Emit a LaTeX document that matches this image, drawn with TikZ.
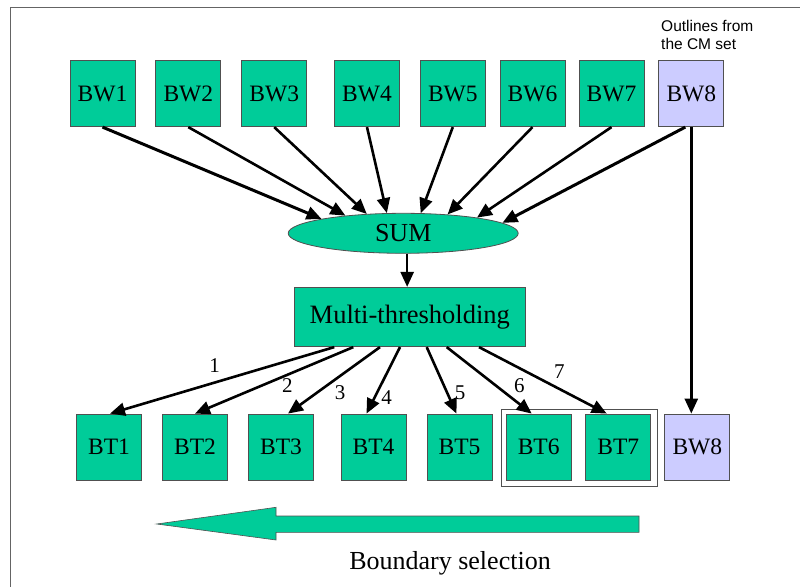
\documentclass[tikz,border=0pt]{standalone}
\usepackage{fontspec}
\setmainfont{Liberation Serif}
\newfontfamily\notefont{Liberation Sans}
\usetikzlibrary{shapes.geometric,arrows.meta,calc}
\definecolor{sea}{RGB}{0,204,153}
\definecolor{lav}{RGB}{204,204,255}
\definecolor{boxline}{RGB}{80,80,80}
\definecolor{framecol}{RGB}{100,100,100}
\begin{document}
\begin{tikzpicture}[x=1pt,y=-1pt,
  gbox/.style={draw=boxline, line width=0.8pt, fill=sea, minimum width=65pt,
    minimum height=66pt, inner sep=0pt, font=\fontsize{23.5}{26}\selectfont},
  lbox/.style={gbox, fill=lav},
  arr/.style={line width=2.6pt, -{Triangle[length=15pt,width=13pt]}},
  num/.style={inner sep=0pt, font=\fontsize{21}{24}\selectfont}]
\useasboundingbox (0,0) rectangle (800,586);
% page frame
\draw[framecol, line width=1pt] (10.5,590) -- (10.5,7.3) -- (803,7.3);

% input outlines
\node[gbox] (bw1) at (102.5,93.7) {BW1};
\node[gbox] (bw2) at (188.3,93.7) {BW2};
\node[gbox] (bw3) at (274.2,93.7) {BW3};
\node[gbox] (bw4) at (367,93.7) {BW4};
\node[gbox] (bw5) at (452.8,93.7) {BW5};
\node[gbox] (bw6) at (532.5,93.7) {BW6};
\node[gbox] (bw7) at (611.5,93.7) {BW7};
\node[lbox] (bw8) at (691.3,93.7) {BW8};
\node[anchor=north west, inner sep=0pt, align=left,
  font=\notefont\fontsize{15.5}{17.6}\selectfont] (note) at (661,20.3)
  {Outlines from\\the CM set};

% sum and thresholding
\node[ellipse, draw=boxline, line width=0.8pt, fill=sea, minimum width=230pt,
  minimum height=40pt, inner sep=0pt, font=\fontsize{26}{30}\selectfont]
  (sum) at (403.2,233.3) {SUM};
\node[gbox, minimum width=231.7pt, minimum height=59.4pt,
  font=\fontsize{26.5}{30}\selectfont] (multi) at (409.8,317) {Multi-thresholding};

% thresholded outputs
\node[gbox] (bt1) at (109,447) {BT1};
\node[gbox] (bt2) at (195,447) {BT2};
\node[gbox] (bt3) at (281,447) {BT3};
\node[gbox] (bt4) at (373.5,447) {BT4};
\node[gbox] (bt5) at (459.5,447) {BT5};
\node[gbox] (bt6) at (538.7,447) {BT6};
\node[gbox] (bt7) at (618.3,447) {BT7};
\node[lbox] (bw8b) at (697.3,447) {BW8};
\node[draw=boxline, line width=0.8pt, fill=none, minimum width=156pt,
  minimum height=76.7pt, inner sep=0pt] (grp) at (579.3,447.7) {};

% connectors into SUM
\draw[arr, line width=3pt] (bw1.south) -- (sum.170.6);
\draw[arr] (bw2.south) -- (sum.163.3);
\draw[arr] (bw3.south) -- (sum.152.5);
\draw[arr] (bw4.south) -- (sum.129.8);
\draw[arr] (bw5.south) -- (sum.49.7);
\draw[arr] (bw6.south) -- (sum.23);
\draw[arr] (bw7.south) -- (sum.12.6);
\draw[arr, line width=3pt] ($(bw8.south)+(-6,0)$) -- (sum.6.2);
\draw[arr] (sum.-79) -- (sum.-79 |- multi.north);

% thresholds
\draw[arr] ($(multi.south)+(-75.5,0)$) -- ($(bt1.north)+(1,0)$);
\draw[arr] ($(multi.south)+(-56.5,0)$) -- (bt2.north);
\draw[arr] ($(multi.south)+(-29.8,0)$) -- ($(bt3.north)+(7,0)$);
\draw[arr] ($(multi.south)+(-9.8,0)$) -- ($(bt4.north)+(-7,0)$);
\draw[arr] ($(multi.south)+(16.9,0)$) -- ($(bt5.north)+(-3,0)$);
\draw[arr] ($(multi.south)+(36.9,0)$) -- ($(bt6.north)+(-7,0)$);
\draw[arr] ($(multi.south)+(69.2,0)$) -- ($(bt7.north)+(-11.6,0)$);
\draw[arr] (bw8.south) -- (bw8.south |- bw8b.north);

\node[num] (n1) at (214.7,365.7) {1};
\node[num] (n2) at (287.3,386) {2};
\node[num] (n3) at (340,392.7) {3};
\node[num] (n4) at (386.7,397.3) {4};
\node[num] (n5) at (460,392.7) {5};
\node[num] (n6) at (519.3,386) {6};
\node[num] (n7) at (559.3,371.7) {7};

% selection direction
\draw[boxline, line width=0.6pt, fill=sea]
  (639,516) -- (276,516) -- (276,507.3) -- (156.7,524) -- (276,540)
  -- (276,532.3) -- (639,532.3) -- cycle;
\node[anchor=base, inner sep=0pt, font=\fontsize{26}{30}\selectfont]
  (sel) at (450,569.5) {Boundary selection};
\end{tikzpicture}
\end{document}
